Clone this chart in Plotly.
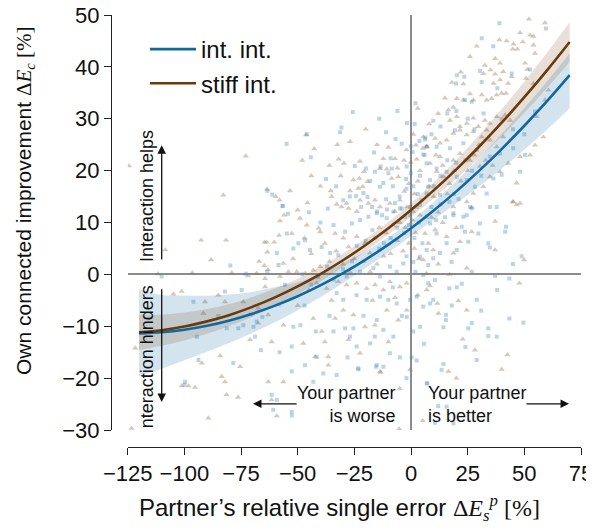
import plotly.graph_objects as go

# ---------------- data ----------------
brown_x = [-124.4,-72.9,-82.8,-108.4,-92.6,-81.6,-88.2,-63.5,-59.7,-58.0,-57.8,-58.2,-64.7,-63.7,-60.4,-63.4,-67.0,-64.7,-63.2,-111.6,-96.5,-79.1,
 -46.3,-42.7,-26.9,-32.5,-31.9,-29.6,-22.5,-31.0,-53.4,-35.4,-26.9,-35.0,-45.7,-50.0,-32.8,-30.6,-28.4,-25.4,-22.8,-21.3,-19.2,-23.2,-20.7,-13.7,-10.7,-12.2,-7.1,-8.5,-5.6,-3.1,-0.1,2.5,5.2,6.9,2.2,5.4,-22.5,-18.8,-15.9,-13.7,-9.3,-7.1,-4.9,-1.9,1.0,4.0,-23.9,-27.6,
 -56.0,-52.6,-49.0,-46.0,-40.1,-40.8,-33.5,-29.9,-27.6,-23.9,-20.3,-18.1,-56.3,-54.1,-50.4,-46.7,-43.1,-40.1,-41.6,-37.2,-32.1,-28.4,-24.0,-19.6,-15.9,-12.2,-9.3,-4.9,-1.9,-43.1,-39.4,-33.5,-29.9,-25.4,-20.3,-15.9,-10.7,-5.6,-1.9,-56.3,-47.5,-42.3,-36.5,-13.7,-0.4,-56.3,-36.5,-27.6,-22.5,
 59.1,52.5,54.0,48.1,42.2,39.0,45.2,44.9,46.9,49.3,54.7,54.0,37.1,39.3,35.1,37.1,40.7,39.3,36.4,44.4,42.9,32.6,31.9,50.3,51.3,54.0,50.7,23.1,26.0,23.1,20.2,18.7,27.5,31.2,33.4,35.6,37.8,40.0,41.9,16.5,17.2,20.2,21.6,24.6,27.5,29.7,32.6,34.8,37.8,41.5,43.7,6.9,10.6,12.8,15.7,18.7,21.6,24.6,27.5,31.2,33.4,34.8,37.8,40.7,48.1,46.6,45.1,54.7,58.4,52.5,42.9,39.3,34.8,31.9,27.5,24.6,18.7,14.3,11.3,8.4,12.8,18.7,21.6,26.0,30.4,60.6,59.1,55.4,48.1,
 44.9,46.6,26.8,37.1,26.8,21.6,18.7,37.1,49.9,24.6,6.9,15.7,10.6,6.2,9.8,5.4,7.6,47.8,8.4,6.9,11.6,12.1,20.9,24.6,22.8,28.2,42.5,40.0,16.5,
 -71.8,-68.1,-64.4,-57.8,-104.8,-101.2,-91.6,-90.9,-85.0,-82.1,-74.0,-64.4,-67.4,-71.1,-63.0,-58.6,-67.4,-121.7,-71.0,-61.5,-84.2,-92.3,-75.4,-83.5,-82.1,-101.2,-98.2,-95.3,-81.4,-76.3,-63.0,-61.5,-89.4,-59.2,-123.3,
 -13.4,-5.2,5.2,52.0,
 -3,-1,1.5,3,-5,-2.5,0.5,2,-8,-11,-14,-16,-6,-3.5,-1,1.5,3.5,-9,-12,-15,-18,-21,-25,-27,-30,-33,-36,-38,-44,-47,-52,-6,-2,1,4,8,10,12,14,16,9,11,14,17,19,22,25,28,30,33,36,3,8,12,15,18,22,26,29,12,17,20,3,-7,-17,-35,-45,-50,-38,-10,-5,20,-20,-15,-10,-36,-40,-44,-48]
brown_y = [20.9,22.8,15.3,4.7,6.6,6.6,2.8,16.4,15.0,14.3,10.3,7.5,6.2,6.2,6.2,4.3,2.5,1.7,0.9,0.1,0.3,0.3,
 26.9,24.2,25.6,25.0,22.2,21.4,21.8,19.0,16.1,16.1,16.1,15.0,13.8,12.4,13.5,13.0,13.7,18.2,18.5,16.9,17.9,16.6,19.8,20.4,20.3,22.3,22.3,18.5,18.8,22.0,21.6,22.2,24.3,24.7,24.9,26.5,14.3,13.7,14.3,13.0,13.7,12.1,14.3,13.0,12.1,11.4,12.1,12.7,
 11.4,7.9,10.8,9.5,8.2,8.9,7.9,7.0,5.3,7.3,6.0,4.1,2.1,0.5,0.5,0.2,0.8,1.5,-1.7,-2.7,-1.4,-2.0,-1.7,-2.7,-2.0,-3.0,-1.4,-2.4,-1.7,-8.5,-11.0,-8.5,-6.9,-7.8,-10.1,-9.8,-6.9,-8.8,-6.9,-9.8,-13.3,-15.9,-17.5,-18.7,-18.4,-20.7,-15.9,-12.6,-15.2,
 48.5,46.1,45.9,46.6,45.0,45.2,44.4,43.4,43.4,44.8,42.6,44.2,41.6,40.7,39.4,38.6,39.1,37.5,36.8,38.1,36.8,40.3,38.7,40.7,39.5,36.8,37.8,36.7,34.8,33.6,33.9,32.2,33.6,34.6,33.6,33.9,34.6,34.9,34.9,31.7,29.7,30.4,28.5,29.1,30.1,28.5,29.7,29.1,30.4,30.7,29.7,24.6,26.2,25.3,25.9,27.2,27.8,26.9,27.5,26.5,27.8,25.9,24.6,26.5,22.7,17.6,14.0,24.9,26.5,23.0,21.4,19.8,18.8,16.9,15.6,14.0,13.0,18.8,19.8,21.4,22.7,22.0,23.3,22.0,20.8,35.5,33.6,30.4,13.7,
 14.0,13.4,12.9,10.2,8.2,6.3,4.1,4.7,2.8,1.2,0.2,7.3,8.6,7.9,4.7,2.8,6.0,-1.7,-2.2,-3.0,-5.6,-7.5,-5.1,-6.9,-12.5,-14.6,-15.5,-18.3,-18.7,
 -0.3,0.2,-0.8,-0.4,-3.8,-3.3,-7.5,-5.3,-4.0,-5.3,-5.3,-2.4,-6.5,-7.8,-7.8,-5.9,-9.4,-14.2,-12.6,-13.0,-15.7,-17.1,-17.8,-19.7,-20.7,-21.5,-21.5,-21.8,-23.2,-23.7,-20.7,-24.2,-27.7,-27.3,-29.7,
 -18.9,-29.8,-28.2,49.2,
 16,17.5,15.5,18,10,9,10.5,8,9.5,8,9,7,6.5,4.5,6,5,3,4,3.5,2,0.5,2.5,3,0.5,2,4.5,2.5,6,4,7,3,20.5,24,27,20,17,15,12,10,15.5,11,23,21,17.5,20,18,20,23,25,22,21,32,29,31,34,37,39,42,44,2,0,9,-4,-4.5,-5,-5,-3,-6,-13,-13,-22,-20,28,25,24.5,21,17,19,22]

blue_x = [-63.4,-61.2,-56.7,-59.2,-79.7,-110.0,-72.9,-63.4,-58.5,
 -25.7,-30.7,-31.3,-46.0,-54.9,-44.2,-11.0,-1.8,1.6,-6.8,-4.1,6.3,3.7,-16.3,-9.0,-24.8,-19.8,-37.5,-29.9,-36.7,-56.6,-54.3,-24.3,-13.7,-12.2,-15.9,-13.4,-10.0,-8.5,-1.9,-0.1,-2.2,-0.1,0.7,6.9,5.4,-21.0,-19.2,-17.2,-15.0,-12.8,-10.6,-7.1,-4.9,-2.6,-0.4,2.5,4.7,6.9,7.6,
 -54.8,-51.9,-49.7,-46.8,-44.6,-39.4,-35.7,-32.1,-34.2,-29.1,-26.1,-22.5,-18.8,-15.1,-10.7,-7.8,-4.1,-0.4,4.0,6.9,-28.4,-22.5,-16.6,-13.7,-9.3,-6.3,-3.4,1.0,4.0,6.9,-32.8,-29.9,-24.0,-19.6,-13.7,-10.0,-6.3,-0.4,2.5,-48.8,-51.9,-34.2,-29.1,-25.4,-26.9,-24.0,-18.1,-15.1,-12.2,-7.8,-1.9,4.0,-52.6,-46.8,-41.6,-38.7,-32.8,-23.3,-15.1,-9.3,-52.6,-43.1,
 39.0,59.5,31.2,36.3,20.2,23.5,19.9,31.2,30.4,23.8,26.8,9.8,19.4,38.1,44.4,52.5,6.2,11.3,17.2,23.1,29.0,34.8,39.3,45.1,50.3,54.7,48.1,40.0,36.4,6.9,11.3,15.7,20.2,24.6,28.2,33.4,34.8,37.8,26.0,23.1,18.7,12.8,8.4,
 18.7,24.6,26.8,30.4,29.7,22.4,23.8,41.9,41.5,34.1,34.8,8.4,11.3,15.7,20.2,25.3,12.8,17.9,9.8,7.6,5.4,48.8,26.8,37.1,43.4,10.6,7.6,20.2,22.4,16.9,29.0,9.8,5.4,8.4,15.4,15.4,14.3,26.8,25.3,43.4,49.6,34.1,34.1,37.8,5.7,29.0,14.3,13.5,6.9,
 -82.1,-74.7,-96.0,-74.0,-69.5,-81.3,-76.2,-68.1,-65.6,-94.5,-93.8,-78.4,-99.7,-100.0,-61.5,-60.8,-59.2,-66.2,-68.8,-55.6,
 -52.6,-52.6,-4.9,0.3,2.5,7.2,12.0,15.7,18.7,10.6,-23.2,-15.4,-12.2,
 -5,-2,1,3,-3,-1,1.5,3.5,-6,-9,-12,-14,-17,-20,-24,-26,-30,-34,-37,-41,-44,-48,-2,2,5,9,11,13,15,17,19,21,10,13,16,20,24,27,31,4,6,9,13,16,20,25,28,32,-8,-11,-18,-22,-27,-33,-40,-45,-8,-4,1,-16,-21,-36,-42,18,24,31,38,45,-2,-28,-47,-58,-85,2,-6,-14,40,45,50]
blue_y = [16.1,15.4,13.2,4.1,1.7,-0.4,0.1,0.5,1.8,
 31.3,28.3,27.4,27.0,25.2,22.6,27.4,29.2,29.0,26.1,25.2,26.4,25.7,23.5,22.4,20.9,20.4,18.4,14.3,12.7,13.2,11.7,15.1,16.9,17.6,19.8,20.8,19.5,20.4,20.8,19.5,18.4,24.7,23.6,24.6,23.1,15.7,14.9,13.0,12.1,11.4,12.5,13.7,12.7,11.1,11.4,13.0,14.3,15.6,16.9,
 7.9,5.0,6.0,6.6,4.7,5.3,4.1,3.7,9.5,8.2,9.8,10.5,11.1,11.8,10.8,12.1,12.7,13.0,13.4,11.1,-0.4,0.5,1.2,-0.4,1.5,0.5,2.1,2.4,3.4,4.7,-3.6,-4.9,-4.0,-4.9,-4.3,-4.9,-5.6,-4.9,-4.3,-9.8,-10.1,-11.0,-10.4,-10.4,-12.0,-13.9,-13.3,-8.8,-10.7,-12.0,-8.2,-10.1,-13.9,-17.5,-15.9,-19.1,-19.4,-18.1,-17.5,-15.2,-18.7,-20.7,
 48.4,47.4,45.5,44.0,38.4,38.1,36.8,37.1,39.2,33.6,33.3,29.6,27.8,35.9,38.7,39.5,26.0,24.6,24.3,25.3,24.0,22.7,23.3,24.3,23.0,31.4,19.8,19.2,18.5,21.4,20.4,19.8,18.8,18.2,16.9,15.6,13.0,13.0,13.0,11.1,11.8,15.3,18.2,
 11.4,11.4,12.7,9.8,7.9,9.2,8.2,9.2,8.2,6.0,5.2,9.8,7.9,6.0,4.7,6.3,4.1,2.4,3.1,1.8,-0.1,3.5,0.5,-0.3,-0.8,-1.1,-1.7,-2.5,-1.8,-2.7,-4.9,-4.9,-6.2,-5.6,-7.8,-8.8,-10.2,-9.4,-10.4,-8.5,-9.3,-10.4,-11.9,-12.0,-13.4,-16.5,-17.3,-18.4,-21.0,
 -3.3,-3.0,-5.3,-9.8,-10.1,-10.4,-10.4,-9.1,-8.2,-12.0,-16.5,-17.1,-20.7,-21.3,-23.2,-26.1,-24.2,-14.6,-12.0,-2.0,
 -26.5,-27.2,-16.0,-16.0,-16.6,-21.0,-25.4,-25.5,-28.7,-28.6,-18.3,-17.8,-17.8,
 15,16.5,17,15.5,8,9.5,7,10,9,7,6,5,8.5,6.5,5.5,2.5,1,-1,1.5,-0.5,-2,0,3.5,0.5,6,13,10.5,13.5,11,14,15.5,14.5,17,19,22,21.5,22,20,19,19,23,27,28.5,31,31.5,30,28,31,17,14.5,18,13,15,17,10,12,-2.5,-8,-11,-12,-8,-8,-11,-6,-14,-7,-3,2,-20,-16,-6,-15,-8,33,31.5,30,30,28,27]

fit_x = [-120,-110,-100,-90,-80,-70,-60,-50,-40,-30,-20,-10,0,10,20,30,40,50,60,70]
blue_fit = [-11.4,-11.17,-10.67,-9.91,-8.88,-7.59,-6.03,-4.21,-2.12,0.24,2.86,5.74,8.9,12.32,16.0,19.96,24.16,28.65,33.39,38.41]
blue_hi = [-2.8,-3.97,-4.07,-4.11,-3.88,-3.39,-2.43,-1.51,0.18,2.14,4.46,7.14,10.3,13.92,18.0,22.36,27.06,32.05,37.19,42.61]
blue_lo = [-19.6,-18.17,-16.57,-14.91,-13.18,-11.29,-9.23,-6.91,-4.42,-1.66,1.26,4.24,7.4,10.52,13.7,16.96,20.36,24.05,27.89,32.01]
brown_fit = [-11.17,-10.76,-10.05,-9.06,-7.81,-6.26,-4.43,-2.33,0.05,2.72,5.67,8.89,12.4,16.19,20.25,24.6,29.23,34.15,39.33,44.8]
brown_hi = [-7.77,-7.76,-7.35,-6.66,-5.71,-4.36,-2.73,-0.83,1.45,4.02,6.87,10.09,13.7,17.69,22.05,26.8,31.83,37.15,42.73,48.6]
brown_lo = [-14.57,-13.76,-12.75,-11.46,-9.91,-8.16,-6.13,-3.83,-1.35,1.42,4.47,7.69,11.1,14.69,18.45,22.4,26.63,31.15,35.93,41.0]

x_ticks = [-125,-100,-75,-50,-25,0,25,50,75]
y_ticks = [-30,-20,-10,0,10,20,30,40,50]

BLUE = "#11679f"
BROWN = "#6a3a0c"
FONT = "Liberation Sans"

fig = go.Figure()
fig.add_trace(go.Scatter(x=brown_x, y=brown_y, mode="markers", showlegend=False,
    marker=dict(symbol="triangle-up", size=5.5, color="rgba(150,110,75,0.38)", line=dict(width=0))))
fig.add_trace(go.Scatter(x=blue_x, y=blue_y, mode="markers", showlegend=False,
    marker=dict(symbol="square", size=4, color="rgba(60,140,195,0.36)", line=dict(width=0))))

# confidence bands
fig.add_trace(go.Scatter(x=fit_x, y=blue_hi, mode="lines", line=dict(width=0, shape="spline"), showlegend=False, hoverinfo="skip"))
fig.add_trace(go.Scatter(x=fit_x, y=blue_lo, mode="lines", line=dict(width=0, shape="spline"), fill="tonexty",
    fillcolor="rgba(17,103,159,0.18)", showlegend=False, hoverinfo="skip"))
fig.add_trace(go.Scatter(x=fit_x, y=brown_hi, mode="lines", line=dict(width=0, shape="spline"), showlegend=False, hoverinfo="skip"))
fig.add_trace(go.Scatter(x=fit_x, y=brown_lo, mode="lines", line=dict(width=0, shape="spline"), fill="tonexty",
    fillcolor="rgba(106,58,12,0.16)", showlegend=False, hoverinfo="skip"))

fig.add_trace(go.Scatter(x=fit_x, y=blue_fit, mode="lines", name="int. int.",
    line=dict(color=BLUE, width=2.6, shape="spline")))
fig.add_trace(go.Scatter(x=fit_x, y=brown_fit, mode="lines", name="stiff int.",
    line=dict(color=BROWN, width=2.6, shape="spline")))

# page body adds an 8px offset; figure is sized to fit the 594x531 window
OFF = 8
W, H = 594 - OFF, 531 - OFF
L, R, T, B = 111 - OFF, 13, 15 - OFF, 84
pw, ph = W - L - R, H - T - B

def px2paper_x(px):  # px in window coordinates
    return (px - OFF - L) / pw

def px2paper_y(py):
    return (H - B - (py - OFF)) / ph

axis_common = dict(showline=True, linecolor="#222", linewidth=1, ticks="outside", ticklen=7,
    tickcolor="#222", tickwidth=1, showgrid=False, zeroline=True, zerolinecolor="#8c8c8c",
    zerolinewidth=1.5, tickfont=dict(family=FONT, size=22, color="#111"), anchor="free", position=0,
    automargin=False, ticklabeloverflow="allow")

fig.update_layout(
    template="none",
    width=W, height=H, autosize=False,
    margin=dict(l=L, r=R, t=T, b=B, pad=0),
    paper_bgcolor="white", plot_bgcolor="white",
    font=dict(family=FONT, color="#111"),
    xaxis=dict(range=[-125, 75], domain=[px2paper_x(127.7), 1], tickvals=x_ticks, **axis_common),
    yaxis=dict(range=[-30, 50], domain=[px2paper_y(430), 1], tickvals=y_ticks, **axis_common),
    legend=dict(x=px2paper_x(145), y=px2paper_y(27), xanchor="left", yanchor="top",
        font=dict(family=FONT, size=24, color="#111"), bgcolor="rgba(0,0,0,0)",
        itemwidth=46, tracegroupgap=0, traceorder="normal"),
    showlegend=True,
)

ann = []
# axis titles
ann.append(dict(xref="paper", yref="paper", x=px2paper_x(339), y=px2paper_y(508), showarrow=False,
    text="Partner’s relative single error <span style='font-family:Liberation Serif'>Δ<i>E</i><sub><i>s</i></sub><sup><i>p</i></sup> [%]</span>",
    font=dict(family=FONT, size=24, color="#111"), xanchor="center", yanchor="middle"))
ann.append(dict(xref="paper", yref="paper", x=px2paper_x(25), y=px2paper_y(201), showarrow=False, textangle=-90,
    text="Own connected improvement <span style='font-family:Liberation Serif'>Δ<i>E</i><sub><i>c</i></sub> [%]</span>",
    font=dict(family=FONT, size=21, color="#111"), xanchor="center", yanchor="middle"))
# in-plot labels
ann.append(dict(x=-116.5, y=15.1, text="Interaction helps", showarrow=False, textangle=-90,
    font=dict(family=FONT, size=18, color="#111")))
ann.append(dict(x=-116.5, y=-15.8, text="nteraction hinders", showarrow=False, textangle=-90,
    font=dict(family=FONT, size=18, color="#111")))
ann.append(dict(x=-6.2, y=-25.0, text="Your partner<br>is worse", showarrow=False, xanchor="right", align="right",
    font=dict(family=FONT, size=18, color="#111")))
ann.append(dict(x=6.6, y=-25.0, text="Your partner<br>is better", showarrow=False, xanchor="left", align="left",
    font=dict(family=FONT, size=18, color="#111")))
# arrows
for (x0, y0, x1, y1) in [(-110, 2.6, -110, 24.9), (-110, -2.6, -110, -24.6),
                         (-49.8, -24.95, -69.7, -24.95), (50.3, -24.95, 69.7, -24.95)]:
    ann.append(dict(x=x1, y=y1, ax=x0, ay=y0, xref="x", yref="y", axref="x", ayref="y", text="",
        showarrow=True, arrowhead=2, arrowsize=1.3, arrowwidth=1.3, arrowcolor="#111"))
fig.update_layout(annotations=ann)

fig.write_html("out.html")
